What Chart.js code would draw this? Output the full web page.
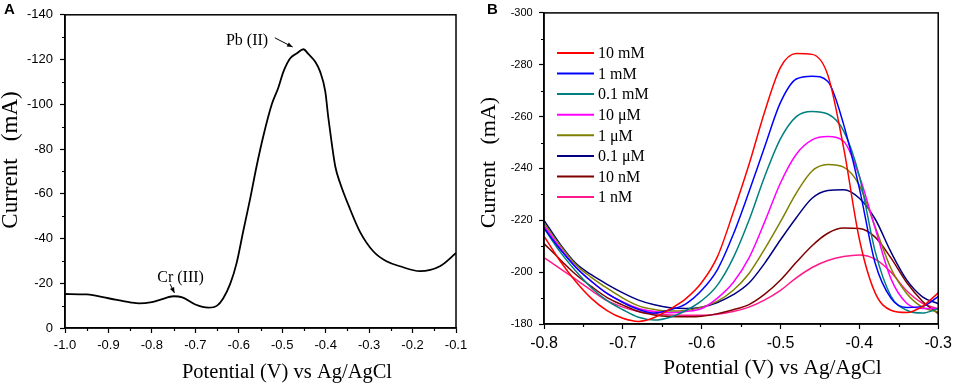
<!DOCTYPE html>
<html>
<head>
<meta charset="utf-8">
<script src="https://cdn.jsdelivr.net/npm/chart.js@4.4.1/dist/chart.umd.min.js"></script>
<style>
  html, body { margin: 0; padding: 0; background: #fff; }
  #wrap { position: relative; width: 957px; height: 388px; }
  .panel { position: absolute; top: 0; }
  #panelA { left: 0; }
  #panelB { left: 480px; }
</style>
</head>
<body>
<div id="wrap">
  <div class="panel" id="panelA"><canvas id="chartA" width="480" height="388"></canvas></div>
  <div class="panel" id="panelB"><canvas id="chartB" width="477" height="388"></canvas></div>
</div>
<script>
// ---- panel A: single DPV scan ----
const potentialA = [-1.0, -0.95, -0.9, -0.85, -0.83, -0.8, -0.78, -0.75, -0.73, -0.7, -0.67, -0.65, -0.636,
  -0.62, -0.605, -0.59, -0.574, -0.559, -0.544, -0.524, -0.509, -0.497, -0.482, -0.467, -0.451, -0.44, -0.424,
  -0.413, -0.401, -0.394, -0.386, -0.378, -0.367, -0.344, -0.321, -0.29, -0.26, -0.229, -0.183, -0.137, -0.1];
const currentA = [-15.2, -15, -13.3, -11.5, -11, -11.6, -12.7, -14.2, -13.7, -10.5, -9.1, -10, -13.2,
  -19.6, -29.0, -43, -57.6, -72.3, -85.4, -100, -107.4, -114.7, -120.5, -122.7, -124.6, -122.5, -119,
  -114.7, -105.9, -94.2, -82.5, -72.3, -64.9, -53.2, -43, -34.2, -29.8, -27.6, -25.4, -27.6, -33.5];
const xTicksA = [-1.0, -0.9, -0.8, -0.7, -0.6, -0.5, -0.4, -0.3, -0.2, -0.1];
const yTicksA = [0, -20, -40, -60, -80, -100, -120, -140];

// ---- panel B: concentration series ----
const potentialB = [-0.80, -0.78, -0.76, -0.74, -0.72, -0.70, -0.68, -0.66, -0.64, -0.62, -0.60, -0.58, -0.56,
  -0.54, -0.52, -0.50, -0.48, -0.46, -0.44, -0.42, -0.40, -0.38, -0.36, -0.34, -0.32, -0.30];
const labelsB = ['10 mM', '1 mM', '0.1 mM', '10 μM', '1 μM', '0.1 μM', '10 nM', '1 nM'];
const current10mM = [-213.9, -204.5, -196.5, -189.9, -185.2, -182.2, -181.0, -182.5, -185.8, -189.8, -196.0, -206.0, -223.0,
  -241.5, -262.0, -279.0, -284.3, -284.0, -276.0, -248.0, -212.7, -192.0, -185.3, -184.4, -186.8, -192.0];
const current1mM = [-217.0, -209.0, -202.0, -196.5, -191.8, -188.3, -185.6, -184.2, -185.5, -187.8, -193.0, -201.0, -214.5,
  -231.0, -248.5, -265.5, -274.5, -275.6, -273.5, -257.0, -232.3, -203.5, -190.0, -186.4, -186.8, -190.6];
const current01mM = [-217.0, -208.0, -200.5, -194.0, -189.0, -185.5, -182.6, -181.5, -182.6, -185.2, -189.0, -195.0, -205.5,
  -220.0, -237.0, -251.5, -260.0, -262.0, -261.0, -254.5, -237.0, -208.0, -190.8, -185.3, -184.2, -186.0];
const current10uM = [-218.0, -209.5, -202.0, -196.5, -191.8, -188.5, -186.0, -184.8, -184.3, -184.8, -186.0, -190.0, -196.0,
  -205.5, -219.5, -234.5, -245.5, -251.0, -252.3, -250.5, -237.0, -217.0, -197.5, -188.0, -186.0, -186.0];
const current1uM = [-219.0, -210.5, -203.0, -198.0, -193.8, -190.0, -187.0, -185.6, -185.0, -185.2, -186.5, -188.8, -193.0,
  -199.5, -209.0, -219.5, -230.5, -239.0, -241.5, -240.5, -233.5, -217.5, -201.5, -191.8, -186.5, -184.6];
const current01uM = [-220.0, -211.0, -203.5, -199.0, -195.3, -192.0, -189.2, -187.4, -186.3, -186.0, -186.5, -188.3, -191.3,
  -195.8, -203.5, -212.5, -221.0, -228.5, -231.5, -231.8, -228.5, -220.5, -207.8, -197.0, -190.5, -187.8];
const current10nM = [-211.0, -205.0, -199.2, -194.5, -190.2, -187.3, -184.8, -183.5, -182.9, -182.8, -183.0, -184.0, -185.5,
  -187.5, -191.5, -197.0, -203.8, -210.2, -215.0, -217.0, -216.8, -213.5, -205.5, -196.0, -188.8, -184.0];
const current1nM = [-205.6, -201.5, -197.3, -193.0, -189.0, -186.5, -184.8, -184.0, -183.5, -183.4, -183.4, -183.8, -184.8,
  -186.5, -189.3, -193.0, -197.8, -201.8, -204.5, -206.0, -206.6, -205.0, -200.0, -192.8, -188.0, -185.8];
const xTicksB = [-0.8, -0.7, -0.6, -0.5, -0.4, -0.3];
const yTicksB = [-180, -200, -220, -240, -260, -280, -300];

const seriesB = [current10mM, current1mM, current01mM, current10uM, current1uM, current01uM, current10nM, current1nM];
const colorsB = ['#ff0000', '#0000ff', '#008080', '#ff00ff', '#808000', '#000080', '#800000', '#ff1a8c'];

const SANS = '"Liberation Sans", Arial, sans-serif';
const SERIF = '"Liberation Serif", "Times New Roman", serif';

function toPoints(xs, ys) {
  return xs.map((x, i) => ({ x: x, y: ys[i] }));
}

function axes(o) {
  return {
    x: {
      type: 'linear', min: o.xMin, max: o.xMax,
      afterBuildTicks: s => { s.ticks = o.xTicks.map(v => ({ value: v })); },
      afterFit: s => { s.height = o.xHeight; },
      ticks: { color: '#000', font: { family: SANS, size: o.xFont }, padding: o.xPad, maxRotation: 0, autoSkip: false,
        callback: v => v.toFixed(1) },
      grid: { drawOnChartArea: false, tickLength: 5, tickColor: '#000', tickWidth: 1.2 },
      border: { color: '#000', width: 1.5 }
    },
    y: {
      type: 'linear', min: o.yMin, max: o.yMax, reverse: true,
      afterBuildTicks: s => { s.ticks = o.yTicks.map(v => ({ value: v })); },
      afterFit: s => { s.width = o.yWidth; },
      ticks: { color: '#000', font: { family: SANS, size: o.yFont }, padding: o.yPad, autoSkip: false,
        callback: v => String(v) },
      grid: { drawOnChartArea: false, tickLength: 5, tickColor: '#000', tickWidth: 1.2 },
      border: { color: '#000', width: 1.5 }
    }
  };
}

// box around the plot plus the short minor ticks between major ones
const framePlugin = {
  id: 'frame',
  afterDraw(chart) {
    const { ctx, chartArea: a, scales } = chart;
    ctx.save();
    ctx.strokeStyle = '#000';
    ctx.lineWidth = 1.5;
    ctx.strokeRect(a.left, a.top, a.right - a.left, a.bottom - a.top);
    ctx.lineWidth = 1.2;
    ctx.beginPath();
    const xs = scales.x.ticks.map(t => t.value);
    for (let i = 0; i < xs.length - 1; i++) {
      const px = Math.round(scales.x.getPixelForValue((xs[i] + xs[i + 1]) / 2)) + 0.5;
      ctx.moveTo(px, a.bottom);
      ctx.lineTo(px, a.bottom + 3);
    }
    const ys = scales.y.ticks.map(t => t.value);
    for (let i = 0; i < ys.length - 1; i++) {
      const py = Math.round(scales.y.getPixelForValue((ys[i] + ys[i + 1]) / 2)) + 0.5;
      ctx.moveTo(a.left, py);
      ctx.lineTo(a.left - 3, py);
    }
    ctx.stroke();
    ctx.restore();
  }
};

function drawTexts(chart, t) {
  const ctx = chart.ctx;
  ctx.save();
  ctx.fillStyle = '#000';
  ctx.font = 'bold 15px ' + SANS;
  ctx.textAlign = 'left';
  ctx.textBaseline = 'middle';
  ctx.fillText(t.letter, t.letterX, 10);

  ctx.font = t.xTitleSize + 'px ' + SERIF;
  ctx.textAlign = 'center';
  ctx.fillText('Potential (V) vs Ag/AgCl', t.xTitleX, t.xTitleY);

  ctx.translate(t.yTitleX, t.yTitleY);
  ctx.rotate(-Math.PI / 2);
  ctx.font = t.yTitleSize + 'px ' + SERIF;
  ctx.fillText('Current   (mA)', 0, 0);
  ctx.restore();
}

function arrow(ctx, x1, y1, x2, y2) {
  const ang = Math.atan2(y2 - y1, x2 - x1);
  ctx.beginPath();
  ctx.moveTo(x1, y1);
  ctx.lineTo(x2, y2);
  ctx.stroke();
  ctx.beginPath();
  ctx.moveTo(x2, y2);
  ctx.lineTo(x2 - 6 * Math.cos(ang - 0.4), y2 - 6 * Math.sin(ang - 0.4));
  ctx.lineTo(x2 - 6 * Math.cos(ang + 0.4), y2 - 6 * Math.sin(ang + 0.4));
  ctx.closePath();
  ctx.fill();
}

// peak labels, placed in data coordinates
const notesA = [
  { text: 'Pb (II)', at: [-0.581, -128.6], from: [-0.517, -129.7], to: [-0.476, -125.6] },
  { text: 'Cr (III)', at: [-0.734, -22.4], from: [-0.758, -19.6], to: [-0.748, -15.7] }
];

const notesPlugin = {
  id: 'notes',
  afterDraw(chart) {
    const { ctx, scales: { x, y } } = chart;
    ctx.save();
    ctx.fillStyle = '#000';
    ctx.strokeStyle = '#000';
    ctx.lineWidth = 1;
    ctx.font = '16px ' + SERIF;
    ctx.textAlign = 'center';
    ctx.textBaseline = 'middle';
    notesA.forEach(n => {
      ctx.fillText(n.text, x.getPixelForValue(n.at[0]), y.getPixelForValue(n.at[1]));
      arrow(ctx, x.getPixelForValue(n.from[0]), y.getPixelForValue(n.from[1]),
        x.getPixelForValue(n.to[0]), y.getPixelForValue(n.to[1]));
    });
    ctx.restore();
    drawTexts(chart, { letter: 'A', letterX: 4, xTitleSize: 20.5, xTitleX: 287, xTitleY: 373,
      yTitleSize: 23, yTitleX: 11, yTitleY: 160 });
  }
};

// legend inside the plot, top left, one short line per series
const legendPluginB = {
  id: 'legendB',
  afterDraw(chart) {
    const { ctx, chartArea: a } = chart;
    ctx.save();
    ctx.font = '16px ' + SERIF;
    ctx.textAlign = 'left';
    ctx.textBaseline = 'middle';
    chart.data.datasets.forEach((ds, i) => {
      const yy = a.top + 40 + i * 20.6;
      ctx.strokeStyle = ds.borderColor;
      ctx.lineWidth = 2;
      ctx.beginPath();
      ctx.moveTo(a.left + 13, yy);
      ctx.lineTo(a.left + 50, yy);
      ctx.stroke();
      ctx.fillStyle = '#000';
      ctx.fillText(ds.label, a.left + 54, yy + 1);
    });
    ctx.restore();
    drawTexts(chart, { letter: 'B', letterX: 7, xTitleSize: 21.3, xTitleX: 292.5, xTitleY: 368,
      yTitleSize: 22, yTitleX: 9.5, yTitleY: 162.5 });
  }
};

new Chart(document.getElementById('chartA'), {
  type: 'line',
  data: {
    datasets: [{
      label: 'scan',
      data: toPoints(potentialA, currentA),
      borderColor: '#000',
      borderWidth: 1.8,
      pointRadius: 0,
      fill: false,
      cubicInterpolationMode: 'monotone'
    }]
  },
  options: {
    responsive: false,
    animation: false,
    layout: { padding: { top: 9, right: 24, left: 0, bottom: 0 } },
    plugins: { legend: { display: false }, tooltip: { enabled: false } },
    scales: axes({ xMin: -1.0, xMax: -0.1, xTicks: xTicksA, xHeight: 60, xFont: 13, xPad: 5,
      yMin: -140, yMax: 0, yTicks: yTicksA, yWidth: 65, yFont: 13, yPad: 7 })
  },
  plugins: [framePlugin, notesPlugin]
});

new Chart(document.getElementById('chartB'), {
  type: 'line',
  data: {
    datasets: seriesB.map((s, i) => ({
      label: labelsB[i],
      data: toPoints(potentialB, s),
      borderColor: colorsB[i],
      backgroundColor: colorsB[i],
      borderWidth: 1.5,
      pointRadius: 0,
      fill: false,
      cubicInterpolationMode: 'monotone'
    }))
  },
  options: {
    responsive: false,
    animation: false,
    layout: { padding: { top: 9, right: 18, left: 0, bottom: 0 } },
    plugins: { legend: { display: false }, tooltip: { enabled: false } },
    scales: axes({ xMin: -0.8, xMax: -0.3, xTicks: xTicksB, xHeight: 64, xFont: 16, xPad: 5,
      yMin: -300, yMax: -180, yTicks: yTicksB, yWidth: 64, yFont: 11, yPad: 6.3 })
  },
  plugins: [framePlugin, legendPluginB]
});
</script>
</body>
</html>
